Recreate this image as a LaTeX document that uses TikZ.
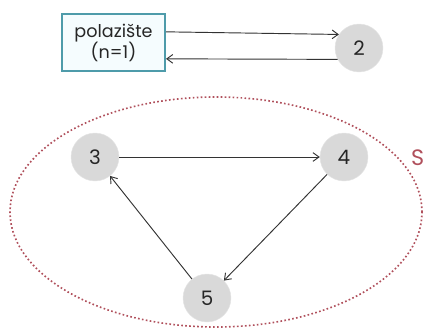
\documentclass[tikz,border=0pt]{standalone}
\usepackage{fontspec}
\setmainfont{Poppins}
\usetikzlibrary{positioning}
\usetikzlibrary{arrows.meta}

\definecolor{rub}{HTML}{4E9BAA}
\definecolor{skup}{HTML}{B0505C}

\begin{document}
\begin{tikzpicture}[x=0.3mm,y=-0.3mm,
        vrh/.style={circle,fill=black!15,draw=black!10,minimum size=14.4mm,inner sep=0pt,
            font=\fontsize{17}{20}\selectfont,text=black!85},
        strelica/.style={-{Straight Barb[length=1.8mm,width=2.6mm]},draw=black!80,line width=0.8pt}]
        % okvir slike
        \useasboundingbox (0,0) rectangle (423,333);
        % skup S
        \draw [dotted,line width=1.4pt,skup] (216,212) ellipse (61.8mm and 34.5mm);
        \node [anchor=west,text=skup,font=\fontsize{19}{20}\selectfont,inner sep=0pt] (S) at (411,158) {S};
        % polaziste i vrh 2
        \node [draw=rub,line width=0.6mm,fill=cyan!4,align=center,minimum width=30.9mm,minimum height=17.1mm,
            inner sep=1pt,font=\fontsize{15}{18}\selectfont,text=black!85] (start) at (113.5,42.5) {polazište\\(n=1)};
        \node [vrh] (v2) at (359,48) {2};
        % vrhovi 3, 4, 5
        \node [vrh] (v3) at (95,157) {3};
        \node [vrh] (v4) at (344,157) {4};
        \node [vrh] (v5) at (207,298) {5};
        % strelice
        \draw [strelica] ([yshift=3.2mm]start.east) -- (v2.146);
        \draw [strelica] (v2.208) -- ([yshift=-4.9mm]start.east);
        \draw [strelica] (v3) -- (v4);
        \draw [strelica] (v4) -- (v5);
        \draw [strelica] (v5) -- (v3);
\end{tikzpicture}
\end{document}
